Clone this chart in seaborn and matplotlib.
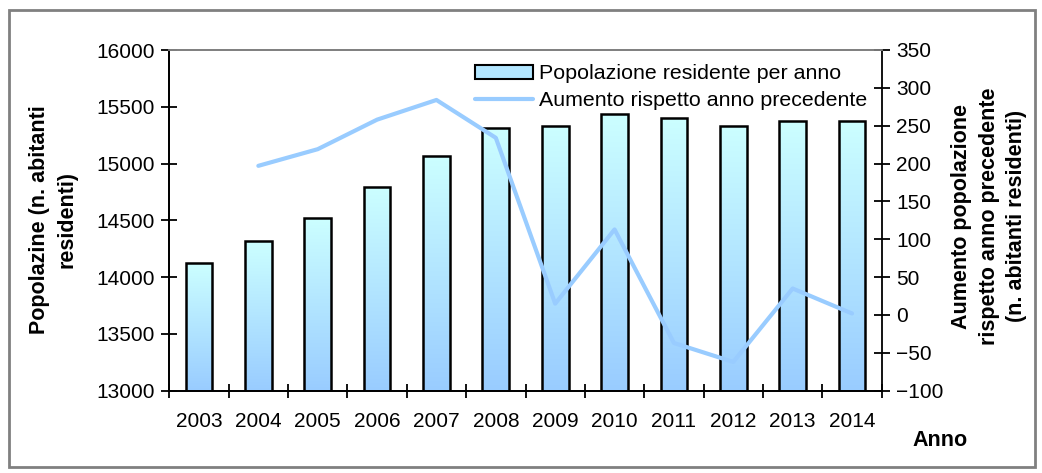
import numpy as np
import pandas as pd
import matplotlib
matplotlib.use("Agg")
import matplotlib.pyplot as plt
from matplotlib.patches import Patch, Rectangle
from matplotlib.lines import Line2D
from matplotlib.colors import LinearSegmentedColormap
import seaborn as sns

# Resident population by year and year-on-year change
anni = ["2003", "2004", "2005", "2006", "2007", "2008",
        "2009", "2010", "2011", "2012", "2013", "2014"]
popolazione = [14122, 14316, 14523, 14791, 15069, 15316,
               15334, 15437, 15404, 15334, 15372, 15372]
aumento = [np.nan, 197, 219, 258, 284, 234, 15, 113, -37, -62, 35, 2]

etichetta_barre = "Popolazione residente per anno"
etichetta_linea = "Aumento rispetto anno precedente"

df = pd.DataFrame({"Anno": anni, "Popolazione": popolazione, "Aumento": aumento})
df["pos"] = np.arange(len(df))

sns.set_theme(style="white")
plt.rcParams["font.family"] = ["Liberation Sans", "DejaVu Sans"]
plt.rcParams["font.size"] = 15
for key in ("text.color", "axes.labelcolor", "xtick.color", "ytick.color"):
    plt.rcParams[key] = "black"

fig = plt.figure(figsize=(10.42, 4.73), dpi=100)
ax = fig.add_axes([169.3 / 1042, 1 - 390.7 / 473, 712.4 / 1042, 340.7 / 473])

sns.barplot(data=df, x="Anno", y="Popolazione", ax=ax, width=0.45,
            color="#aee0ff", edgecolor="black", linewidth=1.8, zorder=2)
ax.set_ylim(13000, 16000)
ax.set_xlim(-0.5, len(df) - 0.5)

# vertical gradient fill inside each bar (light cyan on top, light blue at the base)
cmap = LinearSegmentedColormap.from_list("barfill", ["#99ccff", "#ccffff"])
grad = np.linspace(0, 1, 256).reshape(-1, 1)
for bar in ax.patches:
    x0 = bar.get_x()
    w = bar.get_width()
    top = bar.get_y() + bar.get_height()
    im = ax.imshow(grad, extent=(x0, x0 + w, 13000, top), origin="lower",
                   cmap=cmap, aspect="auto", zorder=1.5)
    im.set_clip_path(bar)
    bar.set_facecolor("none")
ax.set_xlim(-0.5, len(df) - 0.5)
ax.set_ylim(13000, 16000)

ax2 = ax.twinx()
sns.lineplot(data=df, x="pos", y="Aumento", ax=ax2, color="#99ccff",
             linewidth=3, zorder=3)
ax2.set_ylim(-100, 350)
ax2.set_xlim(-0.5, len(df) - 0.5)

# ticks
ax.set_yticks(np.arange(13000, 16001, 500))
ax2.set_yticks(np.arange(-100, 351, 50))
ax.set_xticks(df["pos"])
ax.set_xticklabels(anni)
ax.set_xticks(np.arange(-0.5, len(df), 1), minor=True)
ax.tick_params(axis="x", which="major", length=0, pad=15, labelsize=15)
ax.tick_params(axis="x", which="minor", direction="inout", length=9.5,
               width=1.3, color="black", bottom=True)
ax.tick_params(axis="y", direction="inout", length=11, width=1.3,
               color="black", left=True, pad=5, labelsize=15)
ax2.tick_params(axis="y", direction="inout", length=11, width=1.3,
                color="black", right=True, pad=5, labelsize=15)

for a in (ax, ax2):
    a.set_xlabel("")
    a.set_ylabel("")
    for s in a.spines.values():
        s.set_linewidth(1.3)
    a.spines["top"].set_color("#808080")
    a.spines["left"].set_color("black")
    a.spines["bottom"].set_color("black")
    a.spines["right"].set_color("black")
    a.grid(False)
ax.spines["right"].set_visible(False)

# axis titles
fig.text(53 / 1042, 1 - 220 / 473, "Popolazine (n. abitanti\nresidenti)",
         rotation=90, ha="center", va="center", fontsize=15.5,
         fontweight="bold", linespacing=1.4)
fig.text(989 / 1042, 1 - 216 / 473,
         "Aumento popolazione\nrispetto anno precedente\n(n. abitanti residenti)",
         rotation=90, ha="center", va="center", fontsize=15.5,
         fontweight="bold", linespacing=1.38)
fig.text(940 / 1042, 1 - 440 / 473, "Anno", ha="center", va="center",
         fontsize=15.5, fontweight="bold")

# legend
handles = [Patch(facecolor="#b3e6ff", edgecolor="black", linewidth=1.5),
           Line2D([0], [0], color="#99ccff", linewidth=3)]
leg = ax2.legend(handles, [etichetta_barre, etichetta_linea],
                 loc="upper left", bbox_to_anchor=(0.429, 0.958),
                 frameon=False, fontsize=15.4, handlelength=2.7,
                 handleheight=0.6, handletextpad=0.3, labelspacing=0.38,
                 borderpad=0, borderaxespad=0)

# outer chart frame
fig.patches.append(Rectangle((9 / 1042, 6 / 473), 1026 / 1042, 457 / 473,
                             transform=fig.transFigure, fill=False,
                             edgecolor="#808080", linewidth=2))

fig.savefig("out.png", dpi=100)
